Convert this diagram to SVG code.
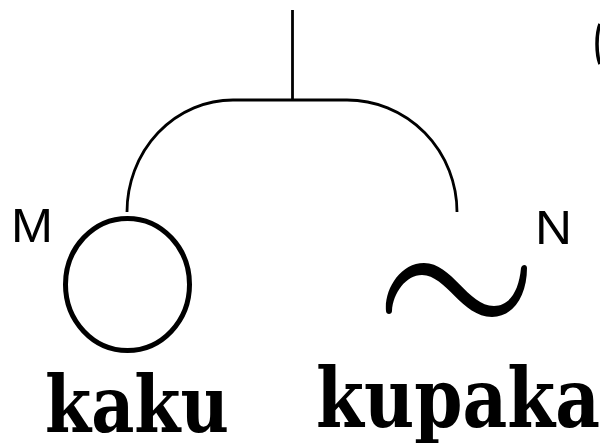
<svg xmlns="http://www.w3.org/2000/svg" width="600" height="443" viewBox="0 0 600 443">
<style>
.ln{fill:none;stroke:#000;stroke-width:2.8;stroke-linecap:butt}
.lbl{font-family:"Liberation Sans",Arial,sans-serif;font-size:49px;fill:#000}
.word{font-family:"DejaVu Serif",serif;font-weight:bold;fill:#000}
</style>
<rect width="600" height="443" fill="#fff"/>
<g id="connectors">
<path class="ln" d="M292.5,10 L292.5,100"/>
<path class="ln" d="M127,212 A106,112 0 0 1 233,100 L347,100 A110,112 0 0 1 457,212"/>
</g>
<g id="node-M">
<ellipse cx="127.5" cy="284.5" rx="62" ry="66" fill="none" stroke="#000" stroke-width="5"/>
<text class="lbl" x="11" y="242" textLength="42" lengthAdjust="spacingAndGlyphs">M</text>
<text class="word" x="45" y="432" font-size="78" textLength="184" lengthAdjust="spacingAndGlyphs">kaku</text>
</g>
<g id="node-N">
<path d="M386,311 C384,290 400,263 424,263 C452,263 468,306 494,306 C510,306 519,290 521,268 C522,264 527,264 527,268 C527,296 513,317 492,317 C462,317 446,275 422,275 C406,275 393,293 392,311 C392,315 386,315 386,311 Z" fill="#000"/>
<text class="lbl" x="535" y="244" textLength="37" lengthAdjust="spacingAndGlyphs">N</text>
<text class="word" x="316" y="427" font-size="82" textLength="284" lengthAdjust="spacingAndGlyphs">kupaka</text>
</g>
<path d="M600,24 C596,34 596,54 600,64" fill="none" stroke="#000" stroke-width="3.5"/>
</svg>
